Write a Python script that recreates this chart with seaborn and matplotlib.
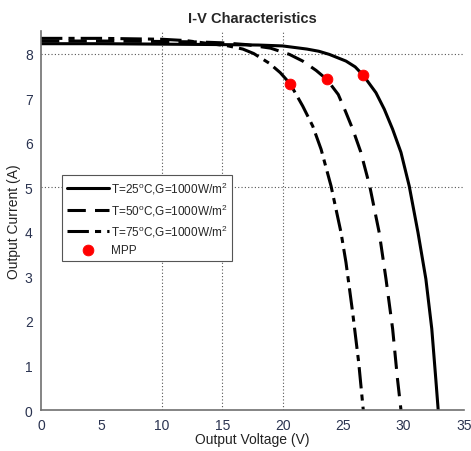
import numpy as np
import pandas as pd
import seaborn as sns
import matplotlib.pyplot as plt

# values
v_25 = [0, 5, 10, 15, 18, 20, 22, 23, 23.86, 25.24, 26.0, 26.67, 27.72, 28.41, 29.1, 29.79, 30.47, 31.2, 31.85, 32.34, 32.67, 32.87]
i_25 = [8.22, 8.22, 8.21, 8.20, 8.19, 8.17, 8.10, 8.05, 7.98, 7.83, 7.70, 7.51, 7.12, 6.75, 6.30, 5.78, 5.03, 3.98, 2.94, 1.82, 0.70, 0.0]

v_50 = [0, 5, 10, 13, 15, 17, 19, 20.56, 21.66, 22.77, 23.65, 24.6, 25.2, 25.8, 26.45, 27.2, 27.99, 28.55, 29.1, 29.5, 29.79]
i_50 = [8.28, 8.28, 8.27, 8.26, 8.24, 8.20, 8.12, 7.98, 7.83, 7.62, 7.42, 7.08, 6.70, 6.30, 5.80, 5.03, 3.98, 2.94, 1.82, 0.70, 0.0]

v_75 = [0, 5, 10, 12, 14, 15.5, 16.7, 17.6, 18.9, 19.8, 20.62, 21.66, 22.49, 23.18, 24.0, 24.83, 25.24, 25.79, 26.29, 26.67]
i_75 = [8.34, 8.34, 8.32, 8.29, 8.22, 8.17, 8.10, 8.00, 7.78, 7.57, 7.32, 6.82, 6.37, 5.85, 5.03, 3.98, 3.31, 2.19, 1.07, 0.0]

mpp_v = [26.67, 23.65, 20.62]
mpp_i = [7.51, 7.42, 7.32]

labels = ['T=25$^o$C,G=1000W/m$^2$', 'T=50$^o$C,G=1000W/m$^2$', 'T=75$^o$C,G=1000W/m$^2$']
grid_x = [10, 15, 20]
grid_y = [5, 8]

sns.set_style("white")
plt.rcParams['font.family'] = ['Liberation Sans', 'DejaVu Sans']
plt.rcParams['mathtext.fontset'] = 'custom'
plt.rcParams['mathtext.rm'] = 'Liberation Sans'
plt.rcParams['mathtext.it'] = 'Liberation Sans'

fig = plt.figure(figsize=(4.71, 4.52), dpi=100)
ax = fig.add_axes([0.087, 0.0907, 0.898, 0.838])

for gx in grid_x:
    ax.axvline(gx, color='#555555', lw=0.8, ls=(0, (1, 2)), zorder=0)
for gy in grid_y:
    ax.axhline(gy, color='#555555', lw=0.8, ls=(0, (1, 2)), zorder=0)

styles = [None, (6, 3), (7, 2, 2, 2)]
curves = [(v_25, i_25), (v_50, i_50), (v_75, i_75)]
for (v, i), lab, dash in zip(curves, labels, styles):
    df = pd.DataFrame({'V': v, 'I': i})
    sns.lineplot(data=df, x='V', y='I', sort=False, ax=ax, color='black', lw=2.2, label=lab)
    if dash is not None:
        ax.lines[-1].set_dashes(dash)

sns.scatterplot(x=mpp_v, y=mpp_i, ax=ax, color='red', s=60, edgecolor='red', zorder=5, label='MPP')

ax.set_xlim(0, 35)
ax.set_ylim(0, 8.5)
ax.set_xticks(range(0, 36, 5))
ax.set_yticks(range(0, 9))
ax.tick_params(direction='in', length=4, color='#707070', labelsize=10, labelcolor='#2a3350', pad=6)
for s in ['top', 'right']:
    ax.spines[s].set_visible(False)
for s in ['left', 'bottom']:
    ax.spines[s].set_color('#707070')
    ax.spines[s].set_linewidth(1.2)

ax.set_xlabel('Output Voltage (V)', fontsize=10, color='#222222', labelpad=0)
ax.set_ylabel('Output Current (A)', fontsize=10, color='#222222', labelpad=3)
ax.set_title('I-V Characteristics', fontsize=10.5, fontweight='bold', pad=7)

leg = ax.legend(loc='upper left', bbox_to_anchor=(0.05, 0.62), borderaxespad=0, fontsize=8.5,
                handlelength=3.6, handletextpad=0.1, labelspacing=0.45, fancybox=False,
                framealpha=1, edgecolor='#555555', borderpad=0.4)
leg.get_frame().set_linewidth(0.8)

fig.savefig('out.png', dpi=100)
